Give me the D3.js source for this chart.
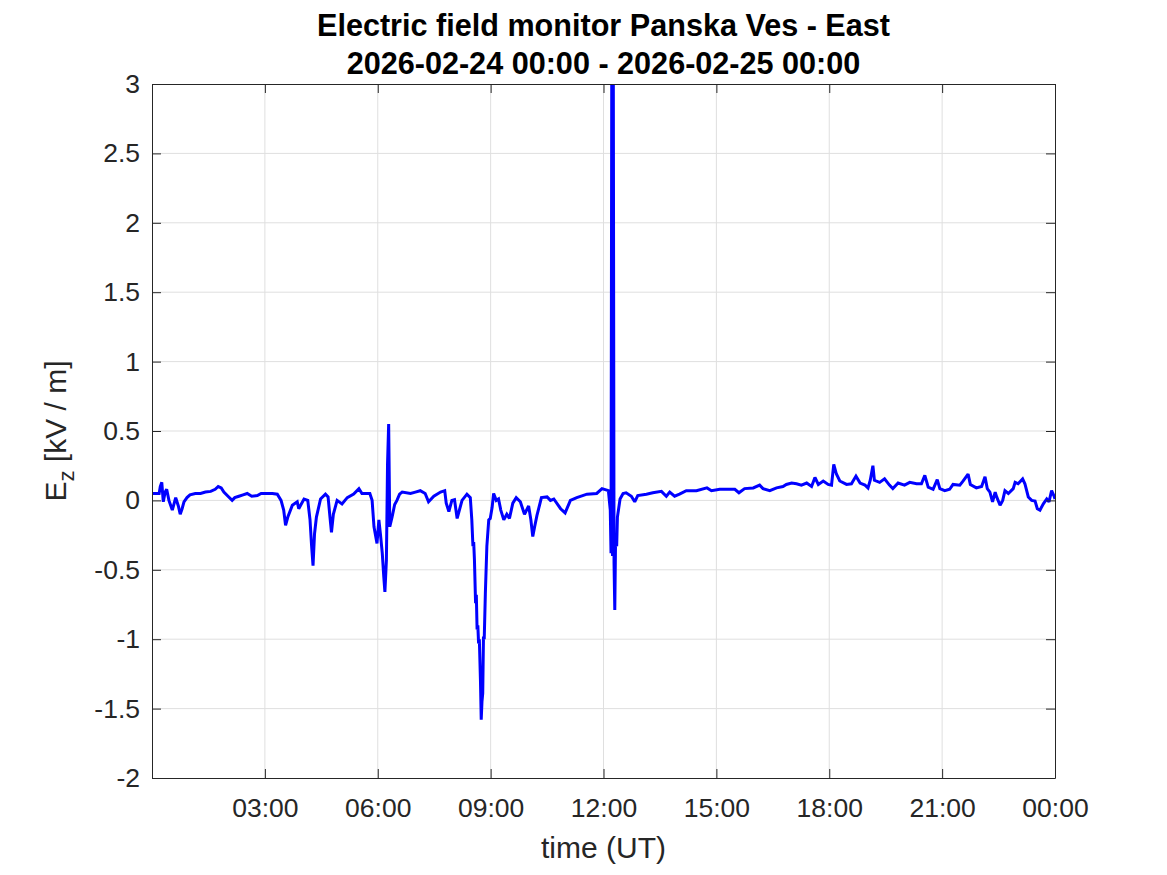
<!DOCTYPE html>
<html><head><meta charset="utf-8">
<script src="https://cdn.jsdelivr.net/npm/d3@7"></script>
<style>body{margin:0;background:#fff;}svg{display:block;}</style>
</head><body>
<svg id="c" width="1167" height="875"></svg>
<script>
const titleLines = ["Electric field monitor Panska Ves - East", "2026-02-24 00:00 - 2026-02-25 00:00"];
const xTickHours = [0, 3, 6, 9, 12, 15, 18, 21, 24];
const xTickLabels = ["", "03:00", "06:00", "09:00", "12:00", "15:00", "18:00", "21:00", "00:00"];
const yTickValues = [-2, -1.5, -1, -0.5, 0, 0.5, 1, 1.5, 2, 2.5, 3];
const yTickLabels = ["-2", "-1.5", "-1", "-0.5", "0", "0.5", "1", "1.5", "2", "2.5", "3"];
const hours = [0.0,0.1,0.19,0.22,0.26,0.3,0.35,0.39,0.45,0.54,0.63,0.7,0.75,0.8,0.85,0.93,1.01,1.15,1.29,1.42,1.56,1.68,1.76,1.84,1.91,2.02,2.13,2.2,2.31,2.42,2.53,2.65,2.8,2.9,3.06,3.2,3.33,3.43,3.5,3.55,3.61,3.73,3.86,3.9,4.04,4.14,4.2,4.24,4.28,4.32,4.37,4.48,4.61,4.68,4.73,4.77,4.82,4.92,5.05,5.19,5.36,5.5,5.58,5.79,5.85,5.9,5.98,6.03,6.07,6.12,6.16,6.19,6.23,6.26,6.29,6.32,6.38,6.45,6.51,6.58,6.65,6.87,7.0,7.13,7.26,7.35,7.49,7.67,7.78,7.82,7.89,7.97,8.04,8.11,8.24,8.37,8.46,8.5,8.53,8.55,8.57,8.6,8.62,8.64,8.66,8.68,8.7,8.73,8.75,8.77,8.79,8.81,8.83,8.86,8.9,8.95,8.99,9.04,9.08,9.15,9.21,9.27,9.35,9.43,9.5,9.59,9.68,9.79,9.9,10.01,10.07,10.12,10.17,10.23,10.35,10.5,10.59,10.68,10.86,10.98,11.12,11.29,11.56,11.82,11.96,12.13,12.18,12.2,12.22,12.24,12.26,12.28,12.3,12.32,12.35,12.37,12.44,12.52,12.6,12.74,12.83,12.91,13.14,13.31,13.54,13.67,13.76,13.89,14.02,14.2,14.47,14.75,14.87,15.09,15.27,15.49,15.6,15.75,15.98,16.15,16.24,16.42,16.6,16.77,16.86,17.0,17.13,17.26,17.4,17.53,17.62,17.71,17.84,17.97,18.06,18.12,18.19,18.28,18.46,18.59,18.71,18.82,18.95,19.03,19.09,19.16,19.2,19.34,19.47,19.6,19.69,19.83,20.0,20.14,20.32,20.45,20.54,20.63,20.76,20.87,20.94,21.07,21.2,21.29,21.47,21.56,21.69,21.75,21.91,22.05,22.14,22.2,22.27,22.34,22.41,22.45,22.54,22.61,22.67,22.76,22.89,22.94,23.02,23.14,23.2,23.29,23.38,23.47,23.53,23.6,23.69,23.78,23.84,23.91,23.97,24.0];
const ez = [0.05,0.05,0.05,0.1,0.13,-0.01,0.06,0.08,0,-0.07,0.02,-0.04,-0.1,-0.06,-0.01,0.02,0.04,0.05,0.05,0.06,0.065,0.08,0.1,0.09,0.06,0.03,0,0.02,0.03,0.04,0.05,0.03,0.035,0.05,0.05,0.05,0.045,0,-0.07,-0.18,-0.12,-0.035,-0.01,-0.06,0.01,0,-0.14,-0.32,-0.47,-0.24,-0.12,0.01,0.045,0.025,-0.12,-0.23,-0.1,0,-0.025,0.02,0.045,0.085,0.05,0.05,0,-0.19,-0.31,-0.14,-0.24,-0.38,-0.55,-0.66,-0.43,0.26,0.55,-0.19,-0.12,-0.03,0,0.045,0.06,0.05,0.06,0.07,0.05,-0.01,0.03,0.06,0.07,-0.02,-0.08,0,0.005,-0.13,0,0.045,0.02,-0.14,-0.33,-0.3,-0.43,-0.74,-0.68,-0.93,-0.9,-1.03,-1.0,-1.3,-1.58,-1.45,-1.39,-0.98,-1.0,-0.67,-0.33,-0.14,-0.13,-0.05,0.05,0,0.01,-0.07,-0.14,-0.1,-0.13,-0.02,0.02,-0.01,-0.1,-0.04,-0.14,-0.26,-0.19,-0.11,0.02,0.025,0,0.01,-0.06,-0.09,0,0.02,0.045,0.05,0.085,0.07,-0.07,-0.38,3.2,-0.4,3.2,-0.45,-0.79,-0.3,-0.33,-0.12,0.01,0.05,0.055,0.03,-0.01,0.035,0.045,0.055,0.065,0.03,0.06,0.03,0.045,0.07,0.07,0.09,0.07,0.08,0.08,0.08,0.055,0.085,0.09,0.11,0.085,0.07,0.09,0.1,0.115,0.125,0.12,0.11,0.125,0.1,0.165,0.115,0.14,0.115,0.11,0.26,0.19,0.14,0.115,0.12,0.175,0.125,0.11,0.09,0.145,0.25,0.145,0.13,0.155,0.11,0.085,0.125,0.11,0.13,0.12,0.12,0.18,0.095,0.08,0.15,0.085,0.07,0.08,0.115,0.11,0.14,0.19,0.115,0.09,0.1,0.17,0.085,0.06,-0.01,0.06,0.025,-0.035,0,0.07,0.05,0.085,0.13,0.12,0.155,0.12,0.025,0,-0.005,-0.06,-0.07,-0.025,0.01,-0.01,0.07,0.035,0.01];

const svg = d3.select("#c");
const L = 152, R = 1055, T = 84, B = 778;
const x = d3.scaleLinear().domain([0, 24]).range([L, R]);
const y = d3.scaleLinear().domain([-2, 3]).range([B, T]);
const axisCol = "#262626";
const font = "'Liberation Sans', Arial, Helvetica, sans-serif";

// grid
const g = svg.append("g");
g.selectAll(".gx").data(xTickHours.slice(1, -1)).enter().append("line")
  .attr("x1", d => x(d)).attr("x2", d => x(d)).attr("y1", T).attr("y2", B)
  .attr("stroke", "#dfdfdf").attr("stroke-width", 1);
g.selectAll(".gy").data(yTickValues.slice(1, -1)).enter().append("line")
  .attr("y1", d => y(d)).attr("y2", d => y(d)).attr("x1", L).attr("x2", R)
  .attr("stroke", "#dfdfdf").attr("stroke-width", 1);

// clip
svg.append("clipPath").attr("id", "clp").append("rect")
  .attr("x", L).attr("y", T).attr("width", R - L).attr("height", B - T);

const line = d3.line().x((d, i) => x(hours[i])).y(d => y(d));
svg.append("path").datum(ez).attr("d", line)
  .attr("clip-path", "url(#clp)")
  .attr("fill", "none").attr("stroke", "#0000ff").attr("stroke-width", 3)
  .attr("stroke-linejoin", "miter").attr("stroke-miterlimit", 2);

// axes
const tl = 9;
const axB = d3.axisBottom(x).tickValues(xTickHours).tickFormat((d, i) => xTickLabels[i]).tickSizeInner(-tl).tickSizeOuter(0).tickPadding(20);
const axT = d3.axisTop(x).tickValues(xTickHours).tickFormat("").tickSizeInner(-tl).tickSizeOuter(0);
const axL = d3.axisLeft(y).tickValues(yTickValues).tickFormat((d, i) => yTickLabels[i]).tickSizeInner(-tl).tickSizeOuter(0).tickPadding(12);
const axR = d3.axisRight(y).tickValues(yTickValues).tickFormat("").tickSizeInner(-tl).tickSizeOuter(0);
function style(sel) {
  sel.selectAll("path").attr("stroke", axisCol).attr("stroke-width", 1);
  sel.selectAll("line").attr("stroke", axisCol).attr("stroke-width", 1);
  sel.selectAll("text").attr("fill", axisCol).style("font-family", font).style("font-size", "26.5px");
}
style(svg.append("g").attr("transform", `translate(0,${B})`).call(axB));
style(svg.append("g").attr("transform", `translate(0,${T})`).call(axT));
style(svg.append("g").attr("transform", `translate(${L},0)`).call(axL));
style(svg.append("g").attr("transform", `translate(${R},0)`).call(axR));

// titles
svg.selectAll(".title").data(titleLines).enter().append("text")
  .attr("x", (L + R) / 2).attr("y", (d, i) => 36 + i * 38)
  .attr("text-anchor", "middle").attr("fill", "#000")
  .style("font-family", font).style("font-weight", "bold").style("font-size", "30.6px")
  .text(d => d);

svg.append("text").attr("x", (L + R) / 2).attr("y", 858).attr("text-anchor", "middle")
  .attr("fill", axisCol).style("font-family", font).style("font-size", "30px").text("time (UT)");

const yl = svg.append("text").attr("transform", `translate(66,${(T + B) / 2}) rotate(-90)`)
  .attr("text-anchor", "middle").attr("fill", axisCol)
  .style("font-family", font).style("font-size", "30px");
yl.append("tspan").text("E");
yl.append("tspan").attr("dy", 8).style("font-size", "22px").text("z");
yl.append("tspan").attr("dy", -8).text(" [kV / m]");
</script>
</body></html>
